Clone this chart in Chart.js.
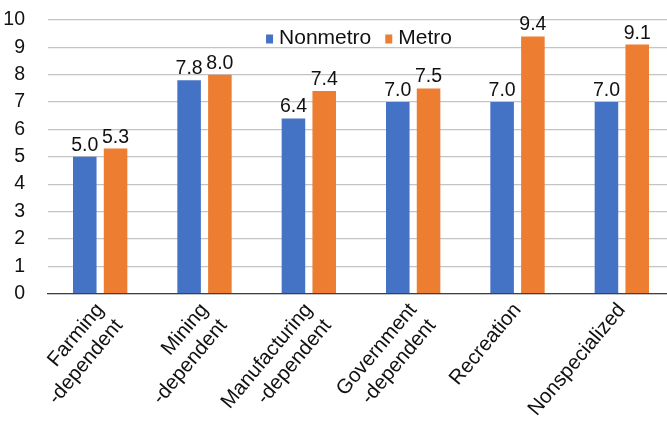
<!DOCTYPE html>
<html>
<head>
<meta charset="utf-8">
<script src="https://cdn.jsdelivr.net/npm/chart.js@4.4.1/dist/chart.umd.min.js"></script>
<style>
  html, body { margin: 0; padding: 0; background: #fff; overflow: hidden; }
  #wrap { position: relative; width: 674px; height: 440px; }
</style>
</head>
<body>
<div id="wrap"><canvas id="chart"></canvas></div>
<script>
// --- data ---
const categories = [
    ['Farming', '-dependent'],
    ['Mining', '-dependent'],
    ['Manufacturing', '-dependent'],
    ['Government', '-dependent'],
    'Recreation',
    'Nonspecialized'
];
const nonmetro = [5.0, 7.8, 6.4, 7.0, 7.0, 7.0];
const metro = [5.3, 8.0, 7.4, 7.5, 9.4, 9.1];
const yTicks = [0, 1, 2, 3, 4, 5, 6, 7, 8, 9, 10];

const FONT = '"Liberation Sans", Arial, Helvetica, sans-serif';

// value labels over each bar
const barLabels = {
    id: 'barLabels',
    afterDatasetsDraw(chart) {
        const c = chart.ctx;
        c.save();
        c.font = '19.5px ' + FONT;
        c.fillStyle = '#111';
        c.textAlign = 'center';
        c.textBaseline = 'alphabetic';
        chart.data.datasets.forEach((ds, i) => {
            chart.getDatasetMeta(i).data.forEach((bar, j) => {
                c.fillText(ds.data[j].toFixed(1), bar.x, bar.y - 6);
            });
        });
        c.restore();
    }
};

// legend drawn inside the plot, centred at the top
const innerLegend = {
    id: 'innerLegend',
    afterDraw(chart) {
        const c = chart.ctx;
        const area = chart.chartArea;
        c.save();
        c.font = '21px ' + FONT;
        c.textBaseline = 'alphabetic';
        const boxW = 7, boxH = 9, gap = 6, spacing = 14;
        const items = chart.data.datasets.map(ds => ({
            text: ds.label, color: ds.backgroundColor, w: c.measureText(ds.label).width
        }));
        let total = 0;
        items.forEach((it, k) => { total += boxW + gap + it.w + (k ? spacing : 0); });
        let x = (area.left + area.right) / 2 - total / 2 - 2;
        const base = 43.5;
        items.forEach((it, k) => {
            if (k) x += spacing;
            c.fillStyle = it.color;
            c.fillRect(x, base - boxH, boxW, boxH);
            x += boxW + gap;
            c.fillStyle = '#111';
            c.fillText(it.text, x, base);
            x += it.w;
        });
        c.restore();
    }
};

const ctx = document.getElementById('chart').getContext('2d');
const chart = new Chart(ctx, {
    type: 'bar',
    data: {
        labels: categories,
        datasets: [
            { label: 'Nonmetro', data: nonmetro, backgroundColor: '#4472C4' },
            { label: 'Metro', data: metro, backgroundColor: '#ED7D31' }
        ]
    },
    options: {
        responsive: true,
        maintainAspectRatio: false,
        animation: false,
        devicePixelRatio: 1,
        layout: { padding: { left: 2, top: 20, right: 0, bottom: 0 } },
        datasets: { bar: { categoryPercentage: 0.59, barPercentage: 0.765 } },
        plugins: { legend: { display: false }, tooltip: { enabled: false } },
        scales: {
            x: {
                grid: { display: false },
                border: { display: true, color: '#404040', width: 1.2 },
                ticks: {
                    color: '#111',
                    font: { family: FONT, size: 20.5 },
                    minRotation: 50,
                    maxRotation: 50,
                    padding: -3
                },
                afterFit(scale) {
                    scale.paddingLeft = 0;
                    scale.paddingRight = 0;
                    scale.height = 146.5;
                }
            },
            y: {
                min: 0,
                max: 10,
                afterBuildTicks(scale) { scale.ticks = yTicks.map(v => ({ value: v })); },
                afterFit(scale) {
                    scale.paddingTop = 0;
                    scale.paddingBottom = 0;
                    scale.width = 46;
                },
                grid: { color: '#c4c4c4', lineWidth: 1.2, drawTicks: false },
                border: { display: false },
                ticks: {
                    autoSkip: false,
                    color: '#111',
                    font: { family: FONT, size: 19.5 },
                    padding: 23
                }
            }
        }
    },
    plugins: [barLabels, innerLegend]
});
</script>
</body>
</html>
